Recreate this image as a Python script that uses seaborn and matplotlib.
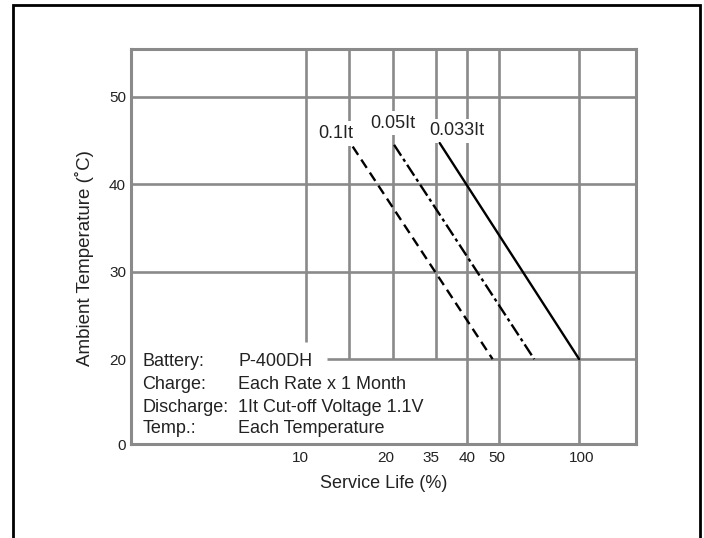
import numpy as np
import pandas as pd
import seaborn as sns
import matplotlib.pyplot as plt
from matplotlib.patches import Rectangle
from matplotlib.transforms import ScaledTranslation

# service life (%) vs ambient temperature
rates = ["0.1It", "0.05It", "0.033It"]
life_01 = [15.4, 48]
temp_01 = [44.3, 20]
life_005 = [20.5, 72]
temp_005 = [44.5, 20]
life_0033 = [35.6, 100]
temp_0033 = [44.7, 20]

x_ticks = [10, 20, 35, 40, 50, 100]
y_ticks = [0, 20, 30, 40, 50]

info_keys = ["Battery:", "Charge:", "Discharge:", "Temp.:"]
info_vals = ["P-400DH", "Each Rate x 1 Month", "1It Cut-off Voltage 1.1V", "Each Temperature"]

# the chart's axes are not linear, so map values onto the drawn grid
x_anchor_val = [0, 10, 15, 20, 35, 40, 50, 100, 150]
x_anchor_pos = [131, 306, 349.3, 392.7, 436, 467.4, 499, 579.2, 636.5]
y_anchor_val = [0, 20, 60]
y_anchor_pos = [10.25, 20, 60]


def fwd_x(v):
    return np.interp(v, x_anchor_val, x_anchor_pos)


def inv_x(p):
    return np.interp(p, x_anchor_pos, x_anchor_val)


def fwd_y(v):
    return np.interp(v, y_anchor_val, y_anchor_pos)


def inv_y(p):
    return np.interp(p, y_anchor_pos, y_anchor_val)


df = pd.DataFrame({
    "life": life_01 + life_005 + life_0033,
    "temp": temp_01 + temp_005 + temp_0033,
    "rate": [rates[0]] * 2 + [rates[1]] * 2 + [rates[2]] * 2,
})

sns.set_style("white")
plt.rcParams["font.family"] = ["Liberation Sans", "DejaVu Sans"]

fig = plt.figure(figsize=(7.04, 5.38), dpi=100)
ax = fig.add_axes([0.186, 0.174, 0.718, 0.734])
ax.set_xscale("function", functions=(fwd_x, inv_x))
ax.set_yscale("function", functions=(fwd_y, inv_y))

grid_c = "#8a8a8a"
grid_w = 1.9

# grid lines (some are cut short in the original)
ax.vlines([10], 21.9, 60, color=grid_c, lw=grid_w, zorder=1)
ax.vlines([15, 20, 35], 20, 60, color=grid_c, lw=grid_w, zorder=1)
ax.vlines([40, 50, 100], 0, 60, color=grid_c, lw=grid_w, zorder=1)
ax.hlines([20], 12.4, 150, color=grid_c, lw=grid_w, zorder=1)
ax.hlines([30, 40, 50], 0, 150, color=grid_c, lw=grid_w, zorder=1)

sns.lineplot(data=df, x="life", y="temp", style="rate", style_order=rates,
             dashes={"0.1It": (4.2, 2.4), "0.05It": (5.5, 1.6, 1.4, 1.6), "0.033It": ""},
             color="black", lw=1.7, estimator=None, sort=False, legend=False,
             ax=ax, zorder=4)

ax.set_xlim(0, 150)
ax.set_ylim(0, 55.4)
ax.set_xticks(x_ticks)
ax.set_xticklabels([str(t) for t in x_ticks])
ax.set_yticks(y_ticks)
ax.set_yticklabels([str(t) for t in y_ticks])
ax.tick_params(axis="both", length=0, labelsize=11, colors="#222222")
ax.tick_params(axis="x", pad=5)
ax.tick_params(axis="y", pad=3.5)

# tick labels sit a little off their grid lines in the original
x_shift = [-5.3, -6.7, -5.3, -0.4, -1.7, 2.5]
for lab, dx in zip(ax.get_xticklabels(), x_shift):
    lab.set_transform(lab.get_transform() + ScaledTranslation(dx / 100, 0, fig.dpi_scale_trans))

for sp in ax.spines.values():
    sp.set_color(grid_c)
    sp.set_linewidth(2.2)

ax.set_xlabel("Service Life (%)", fontsize=13, color="#222222")
ax.set_ylabel("Ambient Temperature (˚C)", fontsize=13.5, color="#222222")
ax.xaxis.set_label_coords(0.5, -0.078)
ax.yaxis.set_label_coords(-0.073, 0.472)

# rate labels with white boxes that break the grid lines
label_pos = [(0.4055, 0.787), (0.5177, 0.813), (0.645, 0.794)]
for r, (px, py) in zip(rates, label_pos):
    ax.text(px, py, r, transform=ax.transAxes, ha="center", va="center",
            fontsize=13, color="#222222", zorder=3,
            bbox=dict(boxstyle="square,pad=0.2", fc="white", ec="none"))

# condition block
base_y = [0.198, 0.139, 0.083, 0.028]
for k, v, yy in zip(info_keys, info_vals, base_y):
    ax.text(0.023, yy, k, transform=ax.transAxes, ha="left", va="baseline",
            fontsize=13, color="#222222", zorder=3)
    ax.text(0.212, yy, v, transform=ax.transAxes, ha="left", va="baseline",
            fontsize=13, color="#222222", zorder=3)

# outer frame around the figure
fig.patches.append(Rectangle((0.019, -0.05), 0.976, 1.04, transform=fig.transFigure,
                             fill=False, ec="black", lw=2.0))

fig.savefig("out.png", dpi=100)
